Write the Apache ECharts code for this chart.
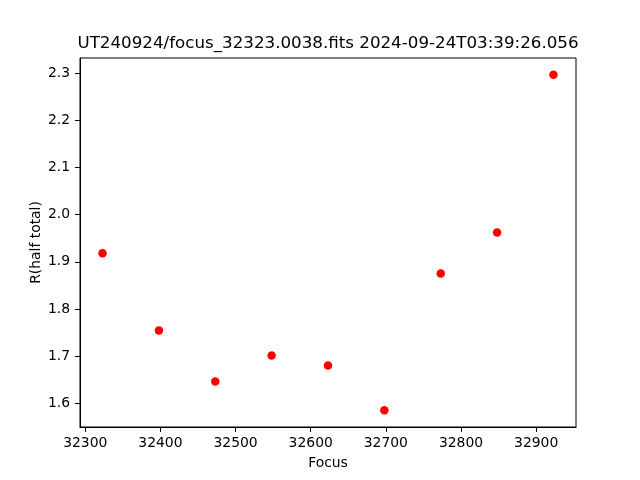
<!DOCTYPE html>
<html><head><meta charset="utf-8">
<script src="https://cdn.jsdelivr.net/npm/echarts@6/dist/echarts.min.js"></script>
<style>html,body{margin:0;padding:0;background:#fff}#c{width:640px;height:480px}</style>
</head><body><div id="c"></div>
<script>
const focusValues = [32323, 32398, 32473, 32548, 32623, 32698, 32773, 32848, 32923];
const rHalfTotal = [1.918, 1.754, 1.646, 1.701, 1.680, 1.585, 1.875, 1.962, 2.297];
const xTicks = [32300, 32400, 32500, 32600, 32700, 32800, 32900];
const yTicks = [1.6, 1.7, 1.8, 1.9, 2.0, 2.1, 2.2, 2.3];
const titleText = "UT240924/focus_32323.0038.fits 2024-09-24T03:39:26.056";

const font = "DejaVu Sans";
const xmin = Math.min(...focusValues), xmax = Math.max(...focusValues);
const ymin = Math.min(...rHalfTotal), ymax = Math.max(...rHalfTotal);
const xm = (xmax - xmin) * 0.05, ym = (ymax - ymin) * 0.05;

const chart = echarts.init(document.getElementById('c'), null, {renderer: 'canvas'});
chart.setOption({
  animation: false,
  backgroundColor: '#fff',
  grid: {left: 80, right: 64, top: 58, bottom: 53, show: true, borderColor: '#000', borderWidth: 1, backgroundColor: 'transparent'},
  graphic: [{
    type: 'text', x: 328, y: 35,
    style: {text: titleText, font: '16.7px "DejaVu Sans"', fill: '#000', textAlign: 'center'}
  }],
  xAxis: {
    type: 'value', min: xmin - xm, max: xmax + xm,
    name: 'Focus', nameLocation: 'middle', nameGap: 29, nameMoveOverlap: false,
    nameTextStyle: {fontFamily: font, fontSize: 13.9, color: '#000'},
    axisLine: {show: true, lineStyle: {color: '#000', width: 1}},
    axisTick: {show: true, length: 5, lineStyle: {color: '#000'}, customValues: xTicks},
    axisLabel: {fontFamily: font, fontSize: 13.9, color: '#000', margin: 9, customValues: xTicks,
      formatter: v => String(Math.round(v))},
    splitLine: {show: false}
  },
  yAxis: {
    type: 'value', min: ymin - ym, max: ymax + ym,
    name: 'R(half total)', nameLocation: 'middle', nameGap: 37, nameMoveOverlap: false,
    nameTextStyle: {fontFamily: font, fontSize: 13.9, color: '#000'},
    axisLine: {show: true, lineStyle: {color: '#000', width: 1}},
    axisTick: {show: true, length: 5, lineStyle: {color: '#000'}, customValues: yTicks},
    axisLabel: {fontFamily: font, fontSize: 13.9, color: '#000', margin: 10, customValues: yTicks,
      formatter: v => v.toFixed(1)},
    splitLine: {show: false}
  },
  series: [{
    type: 'scatter',
    data: focusValues.map((f, i) => [f, rHalfTotal[i]]),
    symbol: 'circle', symbolSize: 8.5,
    itemStyle: {color: '#ff0000', opacity: 1}
  }]
});
</script></body></html>
